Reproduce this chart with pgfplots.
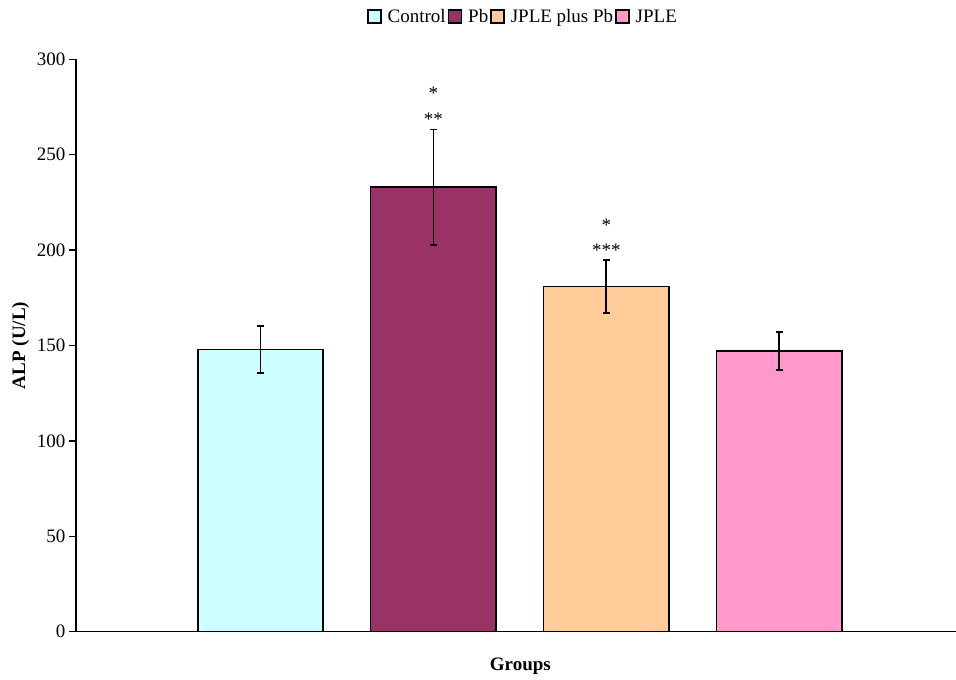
\documentclass[border=0pt]{standalone}
\usepackage{pgfplots}
\pgfplotsset{compat=1.18}
\usepackage{fontspec}
\setmainfont{Liberation Serif}
\definecolor{cctrl}{HTML}{CCFFFF}
\definecolor{cpb}{HTML}{993366}
\definecolor{cjpb}{HTML}{FFCC99}
\definecolor{cjple}{HTML}{FF99CC}
\begin{document}
\begin{tikzpicture}[font=\fontsize{19}{22}\selectfont]
\begin{axis}[name=ax, scale only axis, width=880pt, height=572.4pt,
  xmin=-1.067, xmax=4.022, ymin=0, ymax=300,
  axis x line=bottom, axis y line=left,
  axis line style={-, line width=1.6pt, black},
  xtick=\empty, ytick={0,50,...,300},
  tick align=outside, major tick length=7pt,
  tick style={line width=1.5pt, black},
  /pgf/number format/assume math mode=true,
  yticklabel style={font=\fontsize{19}{22}\selectfont},
  ylabel={\textbf{ALP (U/L)}},
  ylabel style={at={(axis description cs:-0.0631,0.5)}, anchor=center},
  xlabel={\textbf{Groups}},
  xlabel style={at={(axis description cs:0.505,-0.061)}, anchor=center},
  legend style={at={(axis description cs:0.508,1.0744)}, anchor=center, draw=none,
    legend columns=4, font=\fontsize{19}{22}\selectfont,
    /tikz/every odd column/.append style={column sep=4pt}},
  legend image code/.code={\draw[#1,draw=black,line width=1.5pt] (0pt,-6.5pt) rectangle (13pt,6.5pt);},
  clip=false,
]
\addplot[ybar, bar shift=0pt, bar width=125.5pt, fill=cctrl, draw=black, line width=1.6pt,
  error bars/.cd, y dir=both, y explicit,
  error bar style={line width=1.8pt, black},
  error mark options={rotate=90, mark size=3.5pt, line width=1.8pt, black}]
  coordinates {(0,148) +- (0,12.4)};
\addlegendentry{Control}
\addplot[ybar, bar shift=0pt, bar width=125.5pt, fill=cpb, draw=black, line width=1.6pt,
  error bars/.cd, y dir=both, y explicit,
  error bar style={line width=1.8pt, black},
  error mark options={rotate=90, mark size=3.5pt, line width=1.8pt, black}]
  coordinates {(1,233) +- (0,30.2)};
\addlegendentry{Pb}
\addplot[ybar, bar shift=0pt, bar width=125.5pt, fill=cjpb, draw=black, line width=1.6pt,
  error bars/.cd, y dir=both, y explicit,
  error bar style={line width=1.8pt, black},
  error mark options={rotate=90, mark size=3.5pt, line width=1.8pt, black}]
  coordinates {(2,181) +- (0,14)};
\addlegendentry{JPLE plus Pb}
\addplot[ybar, bar shift=0pt, bar width=125.5pt, fill=cjple, draw=black, line width=1.6pt,
  error bars/.cd, y dir=both, y explicit,
  error bar style={line width=1.8pt, black},
  error mark options={rotate=90, mark size=3.5pt, line width=1.8pt, black}]
  coordinates {(3,147) +- (0,10)};
\addlegendentry{JPLE}
\node[anchor=base, inner sep=0pt] at (axis cs:1,278.8) {*};
\node[anchor=base, inner sep=0pt] at (axis cs:1,265.2) {**};
\node[anchor=base, inner sep=0pt] at (axis cs:2,209.6) {*};
\node[anchor=base, inner sep=0pt] at (axis cs:2,196.8) {***};
\end{axis}
\pgfresetboundingbox
\path[use as bounding box] ([xshift=-76pt,yshift=-48.3pt]ax.south west) rectangle ([yshift=59.3pt]ax.north east);
\end{tikzpicture}
\end{document}
